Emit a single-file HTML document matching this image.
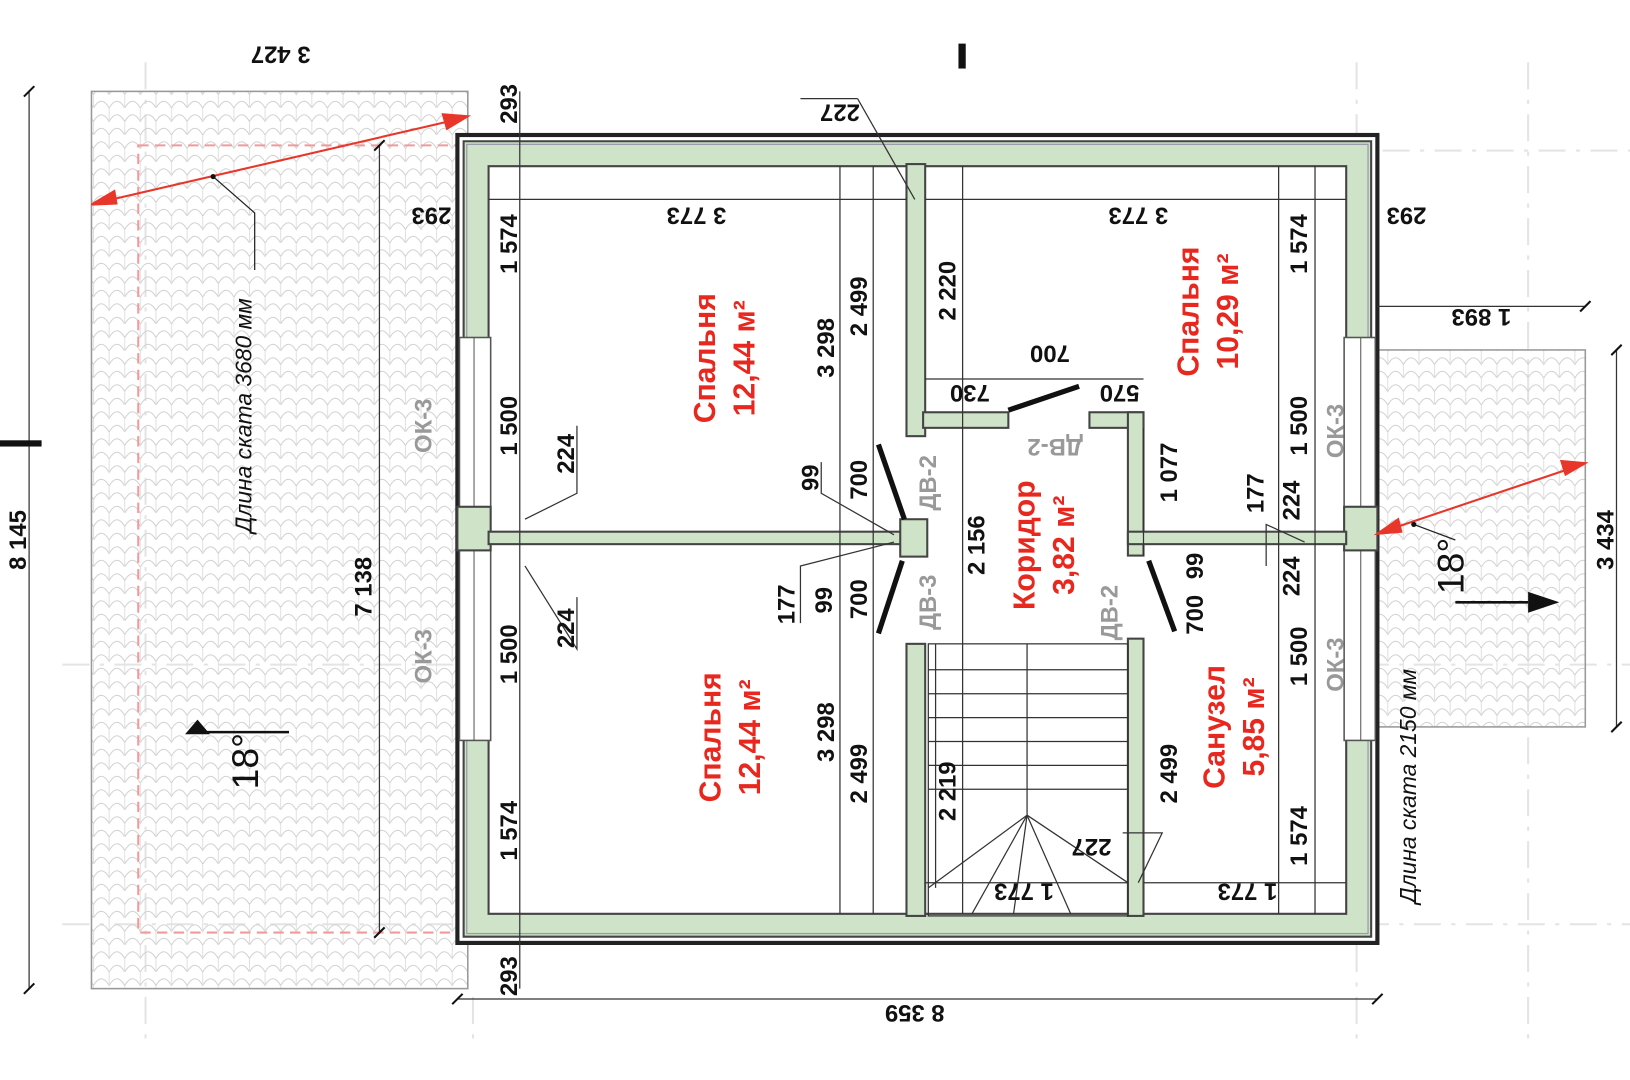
<!DOCTYPE html>
<html><head><meta charset="utf-8"><style>
html,body{margin:0;padding:0;background:#fff;}
svg{display:block}
text{font-family:"Liberation Sans",sans-serif;font-weight:bold;}
</style></head><body>
<svg width="1630" height="1080" viewBox="0 0 1568 1040" preserveAspectRatio="none" xmlns="http://www.w3.org/2000/svg">
<defs>
<pattern id="tile" width="30" height="26" patternUnits="userSpaceOnUse">
<path d="M0 13 Q7.5 0 15 13 Q22.5 0 30 13 M0 26 Q7.5 13 15 26 Q22.5 13 30 26" fill="none" stroke="#d0d0d0" stroke-width="1"/>
<path d="M15 0 V13 M0 13 V26 M30 13V26" stroke="#e0e0e0" stroke-width="1"/>
</pattern>
</defs>
<rect width="1568" height="1040" fill="#fff"/>
<g stroke="#e4e4e4" stroke-width="2" stroke-dasharray="26 10 4 10">
<line x1="140" y1="60" x2="140" y2="1000"/><line x1="455" y1="960" x2="455" y2="1000"/>
<line x1="1305" y1="60" x2="1305" y2="1000"/><line x1="1470" y1="60" x2="1470" y2="1000"/>
<line x1="60" y1="890" x2="1568" y2="890"/><line x1="60" y1="640" x2="1568" y2="640"/>
<line x1="1330" y1="145" x2="1568" y2="145"/>
</g>
<rect x="88" y="88" width="362" height="864" fill="url(#tile)" stroke="#999" stroke-width="1.5"/>
<rect x="133" y="140" width="307" height="758" fill="none" stroke="#f29a9a" stroke-width="2" stroke-dasharray="10 6"/>
<rect x="1325" y="337" width="200" height="363" fill="url(#tile)" stroke="#999" stroke-width="1.5"/>
<rect x="440" y="130" width="885" height="778" fill="#fff" stroke="#222" stroke-width="4"/>
<path fill="#cfe3c8" fill-rule="evenodd" stroke="#444" stroke-width="2" d="M446 136 H1319 V902 H446 Z M470 160 V880 H1295 V160 Z"/>
<rect x="449" y="139" width="867" height="760" fill="none" stroke="#99a" stroke-width="1.2"/>
<g fill="#fff" stroke="#555" stroke-width="1.5">
<rect x="442" y="325" width="30" height="165"/><rect x="442" y="528" width="30" height="185"/>
<rect x="1293" y="325" width="30" height="165"/><rect x="1293" y="528" width="30" height="185"/>
</g>
<g stroke="#555" stroke-width="1"><line x1="456" y1="325" x2="456" y2="490"/><line x1="456" y1="528" x2="456" y2="713"/><line x1="1309" y1="325" x2="1309" y2="490"/><line x1="1309" y1="528" x2="1309" y2="713"/></g>
<g fill="#cfe3c8" stroke="#444" stroke-width="2">
<rect x="440" y="488" width="32" height="42"/><rect x="1293" y="488" width="32" height="42"/>
<rect x="872" y="158" width="18" height="262"/>
<rect x="470" y="512" width="402" height="12"/>
<rect x="866" y="500" width="26" height="36"/>
<rect x="872" y="620" width="18" height="262"/>
<rect x="888" y="397" width="82" height="15"/>
<rect x="1048" y="397" width="52" height="15"/>
<rect x="1085" y="397" width="15" height="138"/>
<rect x="1085" y="512" width="210" height="12"/>
<rect x="1085" y="615" width="15" height="267"/>
</g>
<g stroke="#111" stroke-width="5"><line x1="970" y1="395" x2="1038" y2="372"/><line x1="845" y1="428" x2="870" y2="500"/><line x1="845" y1="610" x2="868" y2="540"/><line x1="1105" y1="540" x2="1130" y2="608"/></g>
<g stroke="#333" stroke-width="1.2" fill="none">
<rect x="893" y="620" width="192" height="262"/>
<line x1="988" y1="620" x2="988" y2="785"/>
<line x1="893" y1="645" x2="1085" y2="645"/><line x1="893" y1="668" x2="1085" y2="668"/><line x1="893" y1="691" x2="1085" y2="691"/><line x1="893" y1="714" x2="1085" y2="714"/><line x1="893" y1="737" x2="1085" y2="737"/><line x1="893" y1="760" x2="1085" y2="760"/>
<line x1="988" y1="785" x2="893" y2="855"/><line x1="988" y1="785" x2="935" y2="880"/><line x1="988" y1="785" x2="975" y2="880"/><line x1="988" y1="785" x2="1030" y2="880"/><line x1="988" y1="785" x2="1085" y2="850"/><line x1="900" y1="620" x2="900" y2="855"/>
</g>
<g stroke="#333" stroke-width="1.2" fill="none">
<line x1="28" y1="88" x2="28" y2="952"/><line x1="365" y1="140" x2="365" y2="898"/>
<line x1="440" y1="962" x2="1325" y2="962"/>
<line x1="500" y1="88" x2="500" y2="952"/><line x1="1265" y1="160" x2="1265" y2="880"/>
<line x1="470" y1="192" x2="872" y2="192"/><line x1="890" y1="192" x2="1295" y2="192"/>
<line x1="808" y1="160" x2="808" y2="880"/><line x1="840" y1="160" x2="840" y2="880"/><line x1="926" y1="160" x2="926" y2="880"/>
<line x1="1325" y1="295" x2="1525" y2="295"/><line x1="1555" y1="337" x2="1555" y2="700"/>
<line x1="890" y1="365" x2="1100" y2="365"/><line x1="1100" y1="850" x2="1295" y2="850"/><line x1="890" y1="850" x2="1085" y2="850"/>
<line x1="1100" y1="412" x2="1100" y2="535"/><line x1="770" y1="95" x2="825" y2="95"/><line x1="825" y1="95" x2="880" y2="192"/>
<line x1="1230" y1="880" x2="1230" y2="160"/>
<polyline points="555,410 555,475 505,500"/><polyline points="555,575 555,625 505,545"/>
<polyline points="790,445 790,475 860,515"/><polyline points="770,600 770,545 860,522"/>
<polyline points="1218,545 1218,505 1255,522"/><polyline points="1080,802 1118,802 1095,850"/>
</g>
<g stroke="#111" stroke-width="2">
<line x1="23" y1="93" x2="33" y2="83"/><line x1="23" y1="957" x2="33" y2="947"/><line x1="435" y1="967" x2="445" y2="957"/><line x1="1320" y1="967" x2="1330" y2="957"/>
<line x1="360" y1="145" x2="370" y2="135"/><line x1="360" y1="903" x2="370" y2="893"/><line x1="1520" y1="300" x2="1530" y2="290"/>
<line x1="1550" y1="342" x2="1560" y2="332"/><line x1="1550" y1="705" x2="1560" y2="695"/>
</g>
<rect x="0" y="424" width="40" height="6" fill="#111"/><rect x="922" y="42" width="7" height="24" fill="#111"/>
<g stroke="#e8362b" stroke-width="2" fill="#e8362b">
<line x1="95" y1="195" x2="440" y2="115"/>
<polygon points="88,197 110,184 112,196"/><polygon points="450,112 426,110 430,124"/>
<line x1="1330" y1="512" x2="1520" y2="448"/>
<polygon points="1325,514 1345,500 1348,512"/><polygon points="1525,446 1502,444 1506,457"/>
</g>
<g stroke="#222" stroke-width="1.2" fill="none"><polyline points="205,170 245,205 245,260"/><polyline points="1360,505 1400,520"/></g>
<circle cx="205" cy="170" r="2.5" fill="#111"/><circle cx="1360" cy="505" r="2.5" fill="#111"/>
<g stroke="#111" stroke-width="2.5"><line x1="190" y1="705" x2="278" y2="705"/><line x1="1400" y1="580" x2="1470" y2="580"/></g>
<polygon points="190,693 178,707 202,707" fill="#111"/><polygon points="1500,580 1470,570 1470,590" fill="#111"/>
<g font-size="23" fill="#111" text-anchor="middle" dominant-baseline="central">
<text transform="translate(270,52) rotate(180)">3 427</text>
<text transform="translate(18,520) rotate(-90)">8 145</text>
<text transform="translate(490,100) rotate(-90)">293</text>
<text transform="translate(415,207) rotate(180)">293</text>
<text transform="translate(1353,207) rotate(180)">293</text>
<text transform="translate(490,940) rotate(-90)">293</text>
<text transform="translate(808,108) rotate(180)">227</text>
<text transform="translate(670,207) rotate(180)">3 773</text>
<text transform="translate(1095,207) rotate(180)">3 773</text>
<text transform="translate(490,235) rotate(-90)">1 574</text>
<text transform="translate(1250,235) rotate(-90)">1 574</text>
<text transform="translate(490,800) rotate(-90)">1 574</text>
<text transform="translate(1250,805) rotate(-90)">1 574</text>
<text transform="translate(912,280) rotate(-90)">2 220</text>
<text transform="translate(795,335) rotate(-90)">3 298</text>
<text transform="translate(795,705) rotate(-90)">3 298</text>
<text transform="translate(827,295) rotate(-90)">2 499</text>
<text transform="translate(827,745) rotate(-90)">2 499</text>
<text transform="translate(1125,745) rotate(-90)">2 499</text>
<text transform="translate(1010,340) rotate(180)">700</text>
<text transform="translate(933,378) rotate(180)">730</text>
<text transform="translate(1077,378) rotate(180)">570</text>
<text transform="translate(1125,455) rotate(-90)">1 077</text>
<text transform="translate(490,410) rotate(-90)">1 500</text>
<text transform="translate(1250,410) rotate(-90)">1 500</text>
<text transform="translate(490,630) rotate(-90)">1 500</text>
<text transform="translate(1250,632) rotate(-90)">1 500</text>
<text transform="translate(545,437) rotate(-90)">224</text>
<text transform="translate(545,605) rotate(-90)">224</text>
<text transform="translate(1243,482) rotate(-90)">224</text>
<text transform="translate(1243,555) rotate(-90)">224</text>
<text transform="translate(1208,475) rotate(-90)">177</text>
<text transform="translate(757,582) rotate(-90)">177</text>
<text transform="translate(780,460) rotate(-90)">99</text>
<text transform="translate(793,578) rotate(-90)">99</text>
<text transform="translate(1150,545) rotate(-90)">99</text>
<text transform="translate(827,462) rotate(-90)">700</text>
<text transform="translate(827,577) rotate(-90)">700</text>
<text transform="translate(1150,592) rotate(-90)">700</text>
<text transform="translate(940,525) rotate(-90)">2 156</text>
<text transform="translate(350,565) rotate(-90)">7 138</text>
<text transform="translate(912,762) rotate(-90)">2 219</text>
<text transform="translate(1050,815) rotate(180)">227</text>
<text transform="translate(985,858) rotate(180)">1 773</text>
<text transform="translate(1200,858) rotate(180)">1 773</text>
<text transform="translate(880,975) rotate(180)">8 359</text>
<text transform="translate(1425,305) rotate(180)">1 893</text>
<text transform="translate(1545,520) rotate(-90)">3 434</text>
</g>
<g font-size="23" fill="#999" text-anchor="middle" dominant-baseline="central">
<text transform="translate(1015,430) rotate(180)">ДВ-2</text>
<text transform="translate(893,465) rotate(-90)">ДВ-2</text>
<text transform="translate(893,580) rotate(-90)">ДВ-3</text>
<text transform="translate(1068,590) rotate(-90)">ДВ-2</text>
<text transform="translate(408,410) rotate(-90)">ОК-3</text>
<text transform="translate(408,632) rotate(-90)">ОК-3</text>
<text transform="translate(1285,415) rotate(-90)">ОК-3</text>
<text transform="translate(1285,640) rotate(-90)">ОК-3</text>
</g>
<g font-size="29" fill="#e8281e" text-anchor="middle">
<text transform="translate(688,345) rotate(-90)"><tspan x="0" y="0">Спальня</tspan><tspan x="0" y="38">12,44 м²</tspan></text>
<text transform="translate(693,710) rotate(-90)"><tspan x="0" y="0">Спальня</tspan><tspan x="0" y="38">12,44 м²</tspan></text>
<text transform="translate(1153,300) rotate(-90)"><tspan x="0" y="0">Спальня</tspan><tspan x="0" y="38">10,29 м²</tspan></text>
<text transform="translate(995,525) rotate(-90)"><tspan x="0" y="0">Коридор</tspan><tspan x="0" y="38">3,82 м²</tspan></text>
<text transform="translate(1178,700) rotate(-90)"><tspan x="0" y="0">Санузел</tspan><tspan x="0" y="38">5,85 м²</tspan></text>
</g>
<g font-size="22" fill="#111" text-anchor="middle" font-style="italic">
<text transform="translate(242,400) rotate(-90)" style="font-weight:normal">Длина ската 3680 мм</text>
<text transform="translate(1362,757) rotate(-90)" style="font-weight:normal">Длина ската 2150 мм</text>
</g>
<g font-size="36" fill="#111" text-anchor="middle">
<text transform="translate(248,733) rotate(-90)" style="font-weight:normal">18°</text>
<text transform="translate(1408,545) rotate(-90)" style="font-weight:normal">18°</text>
</g>
</svg>
</body></html>
